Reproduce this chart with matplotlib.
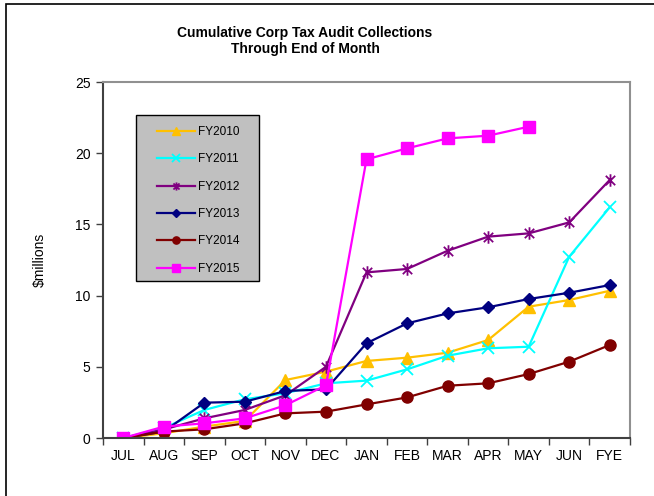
import matplotlib
matplotlib.use("Agg")
import matplotlib.pyplot as plt
from matplotlib.path import Path
from matplotlib.patches import Rectangle

plt.rcParams['font.family'] = ['Liberation Sans', 'DejaVu Sans']

months = ['JUL', 'AUG', 'SEP', 'OCT', 'NOV', 'DEC', 'JAN', 'FEB', 'MAR', 'APR', 'MAY', 'JUN', 'FYE']

fy2010 = [0, 0.33, 0.8, 1.2, 4.07, 4.66, 5.41, 5.64, 5.99, 6.88, 9.22, 9.69, 10.34]
fy2011 = [0, 0.7, 1.97, 2.72, 3.14, 3.84, 4.03, 4.82, 5.78, 6.3, 6.41, 12.73, 16.2]
fy2012 = [0, 0.6, 1.38, 1.97, 3.0, 5.0, 11.63, 11.87, 13.15, 14.14, 14.37, 15.14, 18.12]
fy2013 = [0, 0.45, 2.48, 2.55, 3.3, 3.42, 6.65, 8.05, 8.75, 9.18, 9.76, 10.2, 10.74]
fy2014 = [0, 0.45, 0.61, 1.03, 1.73, 1.85, 2.36, 2.85, 3.67, 3.84, 4.49, 5.36, 6.53]
fy2015 = [0, 0.8, 1.03, 1.38, 2.3, 3.7, 19.57, 20.34, 21.04, 21.23, 21.86]

# excel style asterisk: x plus a vertical bar
star = Path([(0, -1), (0, 1), (-0.75, -0.75), (0.75, 0.75), (-0.75, 0.75), (0.75, -0.75)],
            [Path.MOVETO, Path.LINETO, Path.MOVETO, Path.LINETO, Path.MOVETO, Path.LINETO])

fig = plt.figure(figsize=(6.54, 4.96), dpi=100)
ax = fig.add_axes([103/654, 1 - 438/496, 527/654, 356/496])

x = list(range(len(months)))
ax.plot(x, fy2010, color='#FFC000', lw=1.6, marker='^', ms=8, label='FY2010')
ax.plot(x, fy2011, color='#00FFFF', lw=1.6, marker='x', ms=8, mew=1.3, label='FY2011')
ax.plot(x, fy2012, color='#800080', lw=1.6, marker=star, ms=9, mew=1.3,
        mfc='none', mec='#800080', label='FY2012')
ax.plot(x, fy2013, color='#000080', lw=1.6, marker='D', ms=6, label='FY2013')
ax.plot(x, fy2014, color='#800000', lw=1.6, marker='o', ms=8, label='FY2014')
ax.plot(range(len(fy2015)), fy2015, color='#FF00FF', lw=1.6, marker='s', ms=8, label='FY2015')

ax.set_xlim(-0.5, len(months) - 0.5)
ax.set_ylim(0, 25)
ax.set_yticks([0, 5, 10, 15, 20, 25])
ax.set_xticks(x)
ax.set_xticklabels(months)
ax.set_xticks([i - 0.5 for i in range(len(months) + 1)], minor=True)
ax.tick_params(axis='x', which='major', length=0, labelsize=10, pad=8)
ax.tick_params(axis='x', which='minor', length=5, width=1, color='#404040', direction='out')
ax.tick_params(axis='y', labelsize=10, length=5, width=1, color='#404040', direction='out', pad=4)

for side in ['left', 'bottom']:
    ax.spines[side].set_color('#404040')
    ax.spines[side].set_linewidth(1.5)
for side in ['top', 'right']:
    ax.spines[side].set_color('#909090')
    ax.spines[side].set_linewidth(1.5)

ax.set_ylabel('$millions', fontsize=10, labelpad=20)

fig.text(305/654, 1 - 33/496, 'Cumulative Corp Tax Audit Collections', ha='center', va='center',
         fontsize=10, fontweight='bold')
fig.text(305/654, 1 - 49/496, 'Through End of Month', ha='center', va='center',
         fontsize=10, fontweight='bold')

# legend box drawn by hand, entries placed inside it
ax.add_patch(Rectangle((33/527, (438-281)/356), 123/527, 166/356, transform=ax.transAxes,
                       facecolor='#C0C0C0', edgecolor='black', linewidth=1.0, zorder=4))
leg = ax.legend(loc='upper left', bbox_to_anchor=(54/527, (438-126)/356), fontsize=8.5,
                frameon=False, labelspacing=1.3, handlelength=3.2, handletextpad=0.3,
                borderpad=0, borderaxespad=0, markerscale=0.65)
leg.set_zorder(5)

# outer chart border
fig.patches.append(Rectangle((6/654, -0.05), 1.0, 1 - 4/496 + 0.05, transform=fig.transFigure,
                             fill=False, edgecolor='black', linewidth=1.2))

fig.savefig('out.png', dpi=100)
